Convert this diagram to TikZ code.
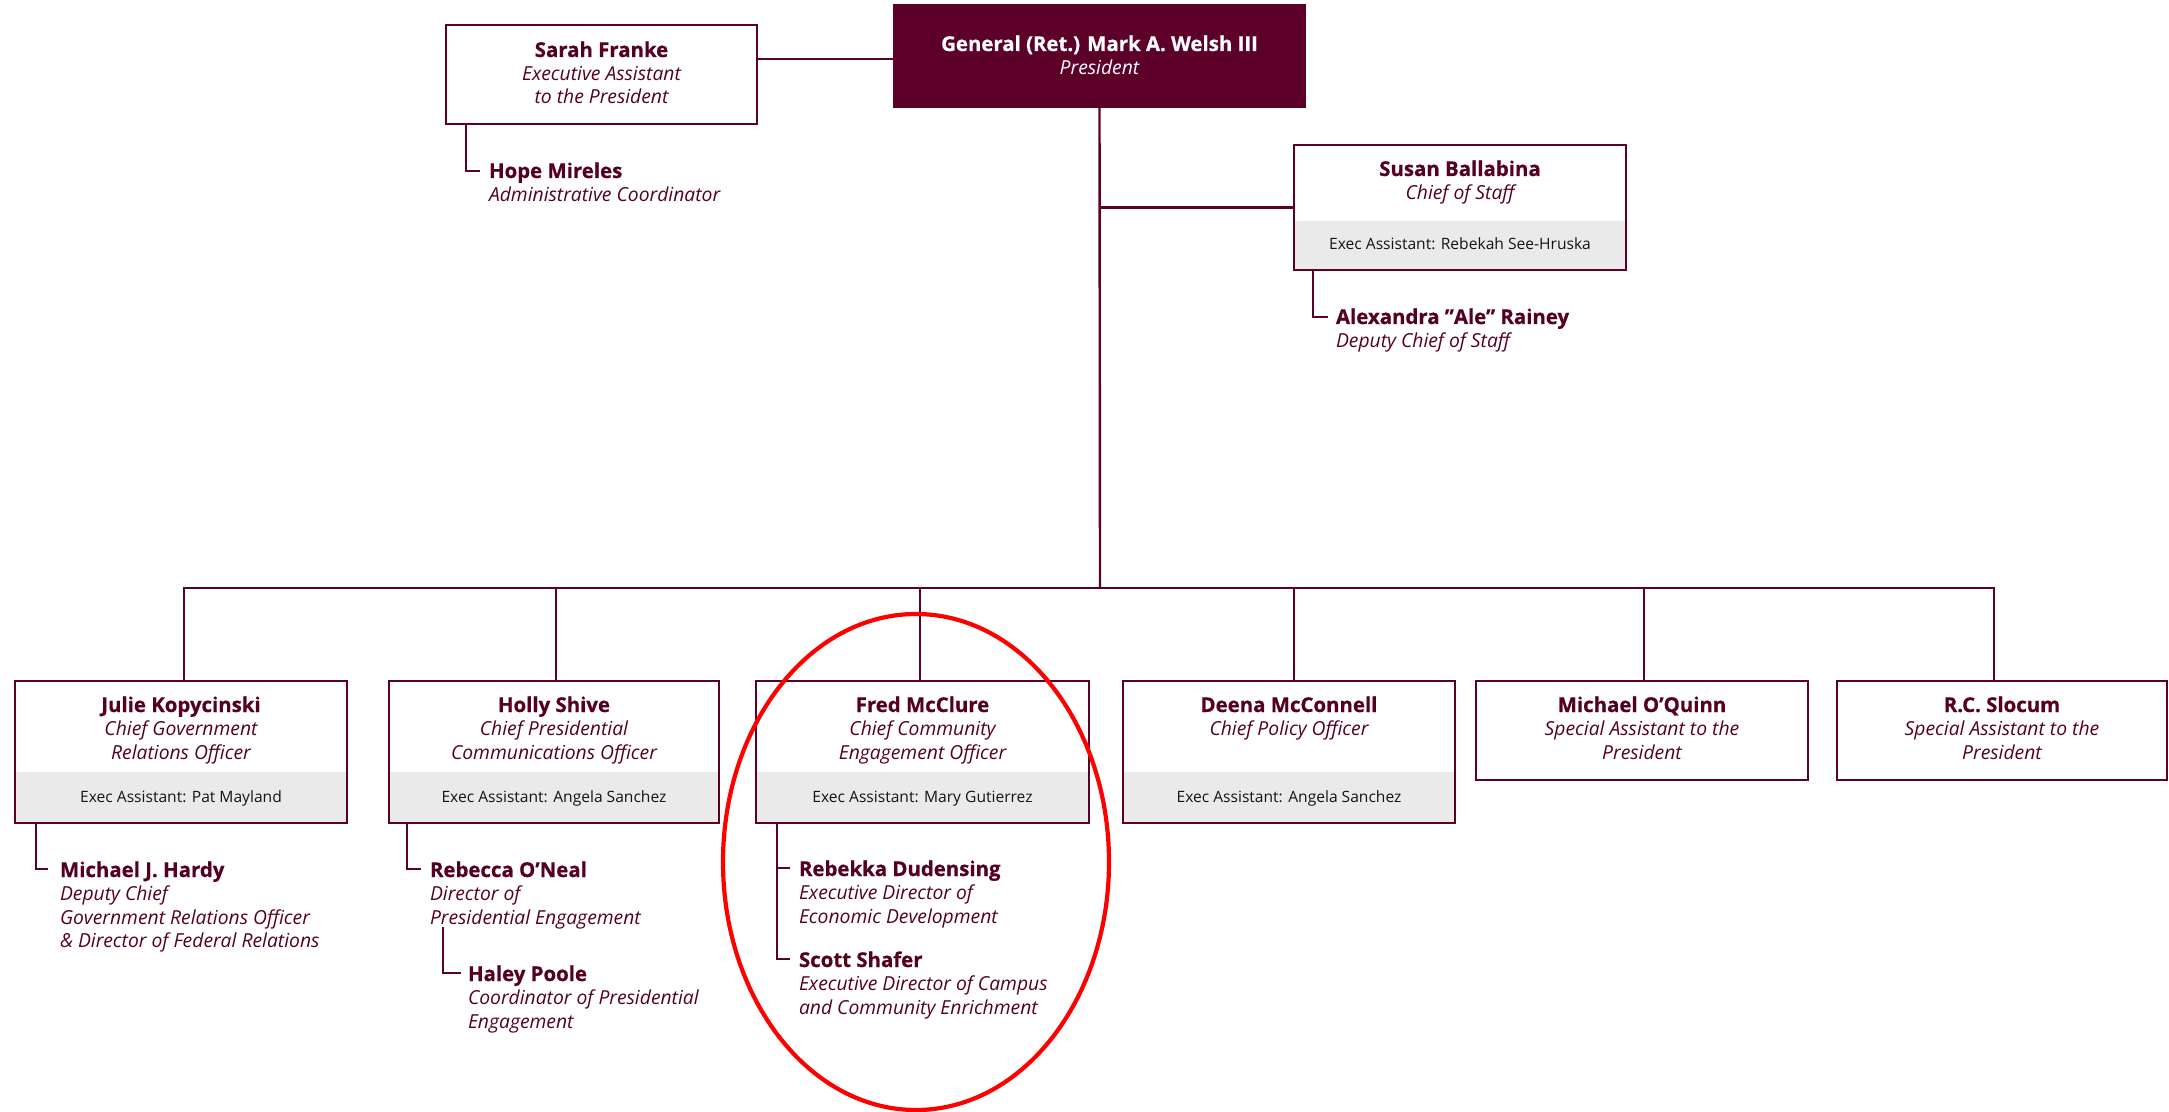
\documentclass[tikz,border=0pt]{standalone}
\usepackage{fontspec}
\setmainfont{Open Sans}[BoldFeatures={FakeBold=0.6}]
\usetikzlibrary{backgrounds}
\definecolor{maroon}{RGB}{92,0,41}
\definecolor{txtmaroon}{RGB}{85,0,35}
\definecolor{bandgray}{RGB}{234,234,234}
\definecolor{exectxt}{RGB}{20,20,20}
\definecolor{ered}{RGB}{255,0,0}
\newcommand{\nm}[1]{{\fontsize{10.2}{11.75}\selectfont\bfseries\upshape #1}}
\newcommand{\stk}[2][c]{\begin{tabular}[t]{@{}#1@{}}#2\end{tabular}}
\newcommand{\ttlfont}{\fontsize{9.65}{11.75}\selectfont\itshape}
\tikzset{
  box/.style={draw=maroon, line width=1.3pt, inner sep=0pt, outer sep=0pt, anchor=north west},
  lbl/.style={inner sep=0pt, outer sep=0pt, text=txtmaroon, font=\ttlfont},
  exec/.style={inner sep=0pt, outer sep=0pt, text=exectxt, anchor=base, font=\fontsize{7.8}{9}\selectfont},
  conn/.style={draw=maroon, line width=1.2pt},
  band/.style={fill=bandgray},
}
\begin{document}
\begin{tikzpicture}[x=0.5pt,y=-0.5pt]
\useasboundingbox (0,0) rectangle (2169,1112);
% boxes
\node[box, draw=maroon, fill=maroon, minimum width=205.5pt, minimum height=51pt] (pres) at (894,5) {};
\node[box, minimum width=155.5pt, minimum height=49.5pt] (sarah) at (446,25) {};
\node[box, minimum width=166pt, minimum height=62.5pt] (susan) at (1294,145) {};
\node[box, minimum width=166pt, minimum height=71pt] (b1) at (15,681) {};
\node[box, minimum width=165pt, minimum height=71pt] (b2) at (389,681) {};
\node[box, minimum width=166.5pt, minimum height=71pt] (b3) at (756,681) {};
\node[box, minimum width=166pt, minimum height=71pt] (b4) at (1123,681) {};
\node[box, minimum width=166pt, minimum height=49.5pt] (b5) at (1476,681) {};
\node[box, minimum width=165pt, minimum height=49.5pt] (b6) at (1837,681) {};
\begin{scope}[on background layer]
  \fill[white] (0,0) rectangle (2169,1112);
  \fill[band] (susan.south west) rectangle ([yshift=24.5pt]susan.south east);
  \foreach \b in {b1,b2,b3,b4}
    \fill[band] (\b.south west) rectangle ([yshift=25.5pt]\b.south east);
\end{scope}
% texts in boxes
\node[lbl, anchor=base, text=white, font=\fontsize{9.65}{12}\selectfont\itshape] (presT) at ([yshift=-23pt]pres.north) {\stk{\nm{General (Ret.) Mark A. Welsh III}\\President}};
\node[lbl, anchor=base] (sarahT) at ([yshift=-16pt]sarah.north) {\stk{\nm{Sarah Franke}\\Executive Assistant\\to the President}};
\node[lbl, anchor=base] (susanT) at ([yshift=-15.5pt]susan.north) {\stk{\nm{Susan Ballabina}\\Chief of Staff}};
\node[exec] (susanE) at ([yshift=10pt]susan.south) {Exec Assistant: Rebekah See-Hruska};
\node[lbl, anchor=base] (b1T) at ([yshift=-15.5pt]b1.north) {\stk{\nm{Julie Kopycinski}\\Chief Government\\Relations Officer}};
\node[exec] (b1E) at ([yshift=10.5pt]b1.south) {Exec Assistant: Pat Mayland};
\node[lbl, anchor=base] (b2T) at ([yshift=-15.5pt]b2.north) {\stk{\nm{Holly Shive}\\Chief Presidential\\Communications Officer}};
\node[exec] (b2E) at ([yshift=10.5pt]b2.south) {Exec Assistant: Angela Sanchez};
\node[lbl, anchor=base] (b3T) at ([yshift=-15.5pt]b3.north) {\stk{\nm{Fred McClure}\\Chief Community\\Engagement Officer}};
\node[exec] (b3E) at ([yshift=10.5pt]b3.south) {Exec Assistant: Mary Gutierrez};
\node[lbl, anchor=base] (b4T) at ([yshift=-15.5pt]b4.north) {\stk{\nm{Deena McConnell}\\Chief Policy Officer}};
\node[exec] (b4E) at ([yshift=10.5pt]b4.south) {Exec Assistant: Angela Sanchez};
\node[lbl, anchor=base] (b5T) at ([yshift=-15.5pt]b5.north) {\stk{\nm{Michael O'Quinn}\\Special Assistant to the\\President}};
\node[lbl, anchor=base] (b6T) at ([yshift=-15.5pt]b6.north) {\stk{\nm{R.C. Slocum}\\Special Assistant to the\\President}};
% sub-items
\node[lbl, anchor=base west] (hope) at (489,178) {\stk[l]{\nm{Hope Mireles}\\Administrative Coordinator}};
\node[lbl, anchor=base west] (alex) at (1336,324) {\stk[l]{\nm{Alexandra ''Ale'' Rainey}\\Deputy Chief of Staff}};
\node[lbl, anchor=base west] (hardy) at (60,877) {\stk[l]{\nm{Michael J. Hardy}\\Deputy Chief\\Government Relations Officer\\\& Director of Federal Relations}};
\node[lbl, anchor=base west] (rebecca) at (430,877) {\stk[l]{\nm{Rebecca O'Neal}\\Director of\\Presidential Engagement}};
\node[lbl, anchor=base west] (haley) at (468,981) {\stk[l]{\nm{Haley Poole}\\Coordinator of Presidential\\Engagement}};
\node[lbl, anchor=base west] (rebekka) at (799,876) {\stk[l]{\nm{Rebekka Dudensing}\\Executive Director of\\Economic Development}};
\node[lbl, anchor=base west] (scott) at (799,967) {\stk[l]{\nm{Scott Shafer}\\Executive Director of Campus\\and Community Enrichment}};
% connectors
\coordinate (bus) at (1100,588);
\draw[conn] ([yshift=-1.5pt]pres.west) -- ([yshift=-1.5pt]pres.west -| sarah.east);
\draw[conn] (pres.south) -- (bus);
\draw[conn] (susan.west) -- (susan.west -| pres.south);
\draw[conn] ([xshift=1.5pt]b1.north) |- (bus);
\draw[conn] ([xshift=1pt]b2.north) |- (bus);
\draw[conn] ([xshift=-1.25pt]b3.north) |- (bus);
\draw[conn] ([xshift=2.5pt]b4.north) |- (bus);
\draw[conn] ([xshift=1pt]b5.north) |- (bus);
\draw[conn] ([xshift=-4pt]b6.north) |- (bus);
\draw[conn] ([xshift=10pt]sarah.south west) |- ([xshift=-4.5pt,yshift=3.5pt]hope.base west);
\draw[conn] ([xshift=9.5pt]susan.south west) |- ([xshift=-4pt,yshift=3.5pt]alex.base west);
\draw[conn] ([xshift=10.5pt]b1.south west) |- ([xshift=-6pt,yshift=4pt]hardy.base west);
\draw[conn] ([xshift=9pt]b2.south west) |- ([xshift=-4.5pt,yshift=4pt]rebecca.base west);
\draw[conn] ([xshift=6.5pt,yshift=-25pt]rebecca.base west) |- ([xshift=-3.5pt,yshift=4pt]haley.base west);
\draw[conn] ([xshift=10.5pt]b3.south west) |- ([xshift=-4.5pt,yshift=4pt]scott.base west);
\draw[conn] ([xshift=-4.5pt,yshift=4pt]rebekka.base west) -| ([xshift=10.5pt]b3.south west);
% highlight
\draw[draw=ered, line width=2.1pt] (916,862) ellipse [x radius=96.5pt, y radius=124pt];
\end{tikzpicture}
\end{document}
